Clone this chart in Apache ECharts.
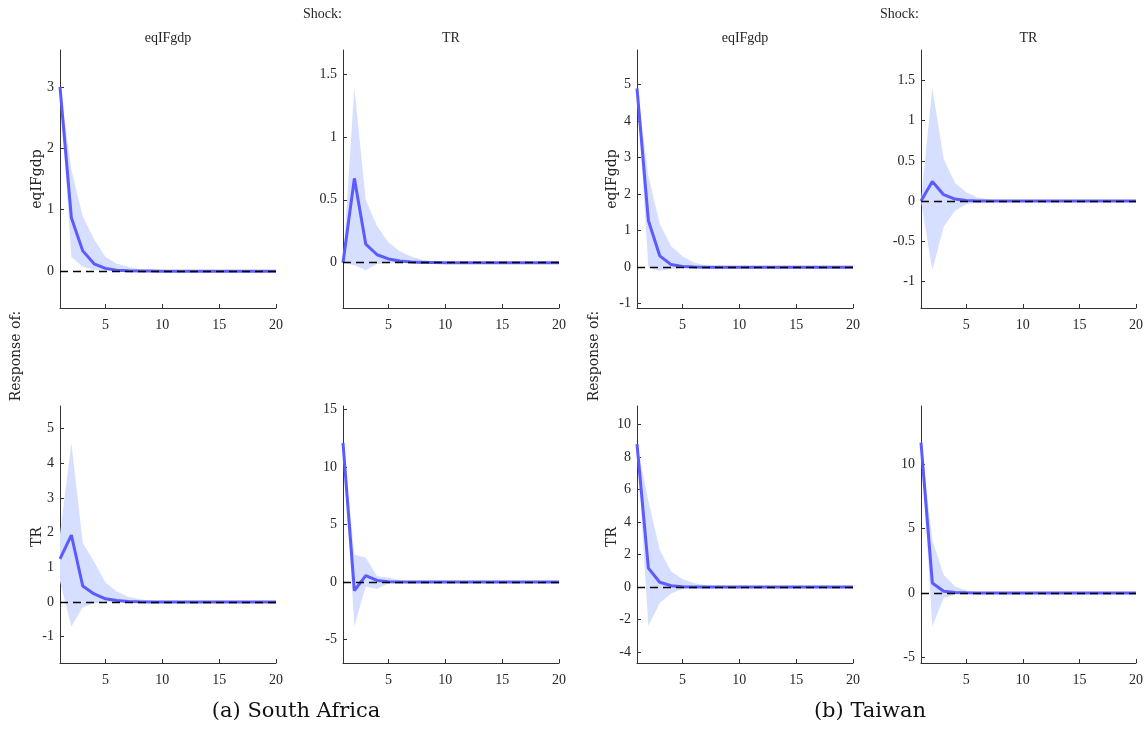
<!DOCTYPE html>
<html>
<head>
<meta charset="utf-8">
<script src="https://cdn.jsdelivr.net/npm/echarts@6/dist/echarts.min.js"></script>
<style>
html,body{margin:0;padding:0;background:#fff;}
#chart{width:1148px;height:736px;}
</style>
</head>
<body>
<div id="chart"></div>
<script>
// Horizons (periods)
const horizons = [1,2,3,4,5,6,7,8,9,10,11,12,13,14,15,16,17,18,19,20];
const xTicks = [5,10,15,20];

// South Africa: response of eqIFgdp to eqIFgdp shock
const sa_eq_eq_median = [3.0,0.87,0.33,0.12,0.045,0.016,0.006,0.002,0.001,0,0,0,0,0,0,0,0,0,0,0];
const sa_eq_eq_upper  = [3.0,1.65,0.89,0.52,0.23,0.12,0.07,0.03,0.015,0.006,0.002,0,0,0,0,0,0,0,0,0];
const sa_eq_eq_lower  = [3.0,0.23,0.07,0.02,0.005,0.001,0,0,0,0,0,0,0,0,0,0,0,0,0,0];
const sa_eq_eq_ticks  = [0,1,2,3];

// South Africa: response of eqIFgdp to TR shock
const sa_eq_tr_median = [0,0.67,0.148,0.063,0.03,0.013,0.005,0.002,0.001,0,0,0,0,0,0,0,0,0,0,0];
const sa_eq_tr_upper  = [0,1.39,0.5,0.29,0.16,0.09,0.05,0.024,0.01,0.005,0.002,0,0,0,0,0,0,0,0,0];
const sa_eq_tr_lower  = [0,-0.02,-0.06,-0.01,-0.002,0,0,0,0,0,0,0,0,0,0,0,0,0,0,0];
const sa_eq_tr_ticks  = [0,0.5,1,1.5];

// South Africa: response of TR to eqIFgdp shock
const sa_tr_eq_median = [1.24,1.93,0.46,0.23,0.09,0.04,0.015,0.005,0.002,0,0,0,0,0,0,0,0,0,0,0];
const sa_tr_eq_upper  = [1.95,4.58,1.71,1.16,0.56,0.3,0.15,0.08,0.04,0.02,0.01,0.005,0,0,0,0,0,0,0,0];
const sa_tr_eq_lower  = [0.6,-0.71,-0.15,-0.04,-0.01,0,0,0,0,0,0,0,0,0,0,0,0,0,0,0];
const sa_tr_eq_ticks  = [-1,0,1,2,3,4,5];

// South Africa: response of TR to TR shock
const sa_tr_tr_median = [12.1,-0.75,0.55,0.14,0.03,0.01,0,0,0,0,0,0,0,0,0,0,0,0,0,0];
const sa_tr_tr_upper  = [12.1,2.4,2.1,0.5,0.4,0.15,0.05,0.02,0,0,0,0,0,0,0,0,0,0,0,0];
const sa_tr_tr_lower  = [12.1,-3.85,-0.38,-0.6,-0.1,-0.02,0,0,0,0,0,0,0,0,0,0,0,0,0,0];
const sa_tr_tr_ticks  = [-5,0,5,10,15];

// Taiwan: response of eqIFgdp to eqIFgdp shock
const tw_eq_eq_median = [4.9,1.28,0.31,0.07,0.02,0.005,0,0,0,0,0,0,0,0,0,0,0,0,0,0];
const tw_eq_eq_upper  = [4.9,2.5,1.19,0.57,0.3,0.13,0.05,0.02,0.008,0,0,0,0,0,0,0,0,0,0,0];
const tw_eq_eq_lower  = [4.9,0.01,-0.1,-0.05,-0.01,0,0,0,0,0,0,0,0,0,0,0,0,0,0,0];
const tw_eq_eq_ticks  = [-1,0,1,2,3,4,5];

// Taiwan: response of eqIFgdp to TR shock
const tw_eq_tr_median = [0,0.245,0.08,0.025,0.008,0.002,0,0,0,0,0,0,0,0,0,0,0,0,0,0];
const tw_eq_tr_upper  = [0,1.41,0.525,0.225,0.11,0.045,0.02,0.008,0.003,0,0,0,0,0,0,0,0,0,0,0];
const tw_eq_tr_lower  = [0,-0.86,-0.32,-0.12,-0.04,-0.015,-0.005,0,0,0,0,0,0,0,0,0,0,0,0,0];
const tw_eq_tr_ticks  = [-1,-0.5,0,0.5,1,1.5];

// Taiwan: response of TR to eqIFgdp shock
const tw_tr_eq_median = [8.8,1.16,0.29,0.08,0.02,0.005,0,0,0,0,0,0,0,0,0,0,0,0,0,0];
const tw_tr_eq_upper  = [8.8,5.3,2.29,0.96,0.49,0.25,0.1,0.04,0.015,0,0,0,0,0,0,0,0,0,0,0];
const tw_tr_eq_lower  = [8.8,-2.4,-0.98,-0.4,-0.12,-0.03,-0.01,0,0,0,0,0,0,0,0,0,0,0,0,0];
const tw_tr_eq_ticks  = [-4,-2,0,2,4,6,8,10];

// Taiwan: response of TR to TR shock
const tw_tr_tr_median = [11.66,0.78,0.13,0.03,0.01,0,0,0,0,0,0,0,0,0,0,0,0,0,0,0];
const tw_tr_tr_upper  = [11.66,4.1,1.42,0.52,0.2,0.07,0.03,0.01,0,0,0,0,0,0,0,0,0,0,0,0];
const tw_tr_tr_lower  = [11.66,-2.6,-0.39,-0.13,-0.04,-0.01,0,0,0,0,0,0,0,0,0,0,0,0,0,0];
const tw_tr_tr_ticks  = [-5,0,5,10];

// Axis limits [min, max]
const yLimits = [
  [-0.6, 3.6], [-0.36, 1.69], [-1.76, 5.65], [-7.04, 15.3],
  [-1.12, 5.95], [-1.33, 1.88], [-4.68, 11.14], [-5.43, 14.5]
];

const shockNames = ['eqIFgdp','TR'];
const responseNames = ['eqIFgdp','TR'];
const captions = ['(a) South Africa','(b) Taiwan'];

const panels = [
  {m: sa_eq_eq_median, u: sa_eq_eq_upper, l: sa_eq_eq_lower, t: sa_eq_eq_ticks},
  {m: sa_eq_tr_median, u: sa_eq_tr_upper, l: sa_eq_tr_lower, t: sa_eq_tr_ticks},
  {m: sa_tr_eq_median, u: sa_tr_eq_upper, l: sa_tr_eq_lower, t: sa_tr_eq_ticks},
  {m: sa_tr_tr_median, u: sa_tr_tr_upper, l: sa_tr_tr_lower, t: sa_tr_tr_ticks},
  {m: tw_eq_eq_median, u: tw_eq_eq_upper, l: tw_eq_eq_lower, t: tw_eq_eq_ticks},
  {m: tw_eq_tr_median, u: tw_eq_tr_upper, l: tw_eq_tr_lower, t: tw_eq_tr_ticks},
  {m: tw_tr_eq_median, u: tw_tr_eq_upper, l: tw_tr_eq_lower, t: tw_tr_eq_ticks},
  {m: tw_tr_tr_median, u: tw_tr_tr_upper, l: tw_tr_tr_lower, t: tw_tr_tr_ticks}
];

// layout
const colLeft = [60, 343, 637, 921];
const colWidth = [216, 216, 216, 215];
const rowTop = [50, 406];
const rowHeight = [258, 257];

const FONT = 'Liberation Serif';
const AXC = '#333333';
const LINE_C = '#5b5bff';
const BAND_C = '#d6dfff';

const showX = (idx, val) => xTicks.indexOf(Number(val)) >= 0;

const grids = [], xAxes = [], yAxes = [], series = [];
panels.forEach((p, i) => {
  const country = Math.floor(i / 4);
  const k = i % 4;
  const row = Math.floor(k / 2);
  const col = country * 2 + (k % 2);
  grids.push({left: colLeft[col], top: rowTop[row], width: colWidth[col], height: rowHeight[row], containLabel: false});
  xAxes.push({
    type: 'category', gridIndex: i, data: horizons.map(String), boundaryGap: false,
    axisLine: {show: true, onZero: false, lineStyle: {color: AXC, width: 1}},
    axisTick: {show: true, inside: true, length: 4, interval: showX, lineStyle: {color: AXC}},
    axisLabel: {interval: showX, color: '#262626', fontFamily: FONT, fontSize: 14, margin: 10},
    splitLine: {show: false}
  });
  yAxes.push({
    type: 'value', gridIndex: i, min: yLimits[i][0], max: yLimits[i][1],
    axisLine: {show: true, onZero: false, lineStyle: {color: AXC, width: 1}},
    axisTick: {show: true, inside: true, length: 4, customValues: p.t, lineStyle: {color: AXC}},
    axisLabel: {customValues: p.t, color: '#262626', fontFamily: FONT, fontSize: 14, margin: 6},
    splitLine: {show: false}
  });
  const widthData = p.u.map((u, j) => u - p.l[j]);
  series.push({
    type: 'line', xAxisIndex: i, yAxisIndex: i, data: p.l, stack: 'band' + i, stackStrategy: 'all',
    symbol: 'none', lineStyle: {opacity: 0}, silent: true, z: 1
  });
  series.push({
    type: 'line', xAxisIndex: i, yAxisIndex: i, data: widthData, stack: 'band' + i, stackStrategy: 'all',
    symbol: 'none', lineStyle: {opacity: 0}, areaStyle: {color: BAND_C, opacity: 1}, silent: true, z: 1
  });
  series.push({
    type: 'line', xAxisIndex: i, yAxisIndex: i, data: p.m,
    symbol: 'none', lineStyle: {color: LINE_C, width: 3}, silent: true, z: 3
  });
  series.push({
    type: 'line', xAxisIndex: i, yAxisIndex: i, data: p.m,
    symbol: 'none', lineStyle: {opacity: 0}, silent: true, z: 5,
    markLine: {silent: true, symbol: 'none', label: {show: false},
      lineStyle: {color: '#000', type: [8, 5], width: 1.3}, data: [{yAxis: 0}]}
  });
});

const graphics = [];
[0, 1].forEach(c => {
  graphics.push({type: 'text', left: [303, 880][c], top: 7,
    style: {text: 'Shock:', font: '14px "Liberation Serif"', fill: '#262626'}});
  [0, 1].forEach(s => {
    const col = c * 2 + s;
    graphics.push({type: 'text', x: colLeft[col] + colWidth[col] / 2, y: 38,
      style: {text: shockNames[s], font: '14px "Liberation Serif"', fill: '#262626', align: 'center', verticalAlign: 'middle'}});
  });
  graphics.push({type: 'text', x: [16, 594][c], y: 356, rotation: Math.PI / 2,
    style: {text: 'Response of:', font: '14px "DejaVu Serif"', fill: '#262626', align: 'center', verticalAlign: 'middle'}});
  [0, 1].forEach(r => {
    graphics.push({type: 'text', x: [37, 612][c], y: [179, 537][r], rotation: Math.PI / 2,
      style: {text: responseNames[r], font: '14px "DejaVu Serif"', fill: '#262626', align: 'center', verticalAlign: 'middle'}});
  });
  graphics.push({type: 'text', x: [296, 870][c], y: 712,
    style: {text: captions[c], font: '21px "DejaVu Serif"', fill: '#111', align: 'center', verticalAlign: 'middle'}});
});

const chart = echarts.init(document.getElementById('chart'), null, {renderer: 'canvas'});
chart.setOption({
  animation: false,
  backgroundColor: '#ffffff',
  grid: grids, xAxis: xAxes, yAxis: yAxes, series: series,
  graphic: graphics
});
</script>
</body>
</html>
